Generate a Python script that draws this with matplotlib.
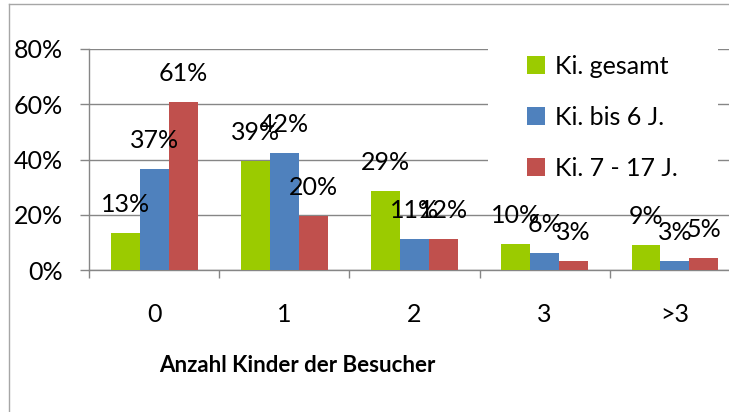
import numpy as np
import matplotlib.pyplot as plt
from matplotlib.patches import Rectangle
from matplotlib.lines import Line2D
from matplotlib.ticker import PercentFormatter, FixedLocator

# data
categories = ['0', '1', '2', '3', '>3']
series_names = ['Ki. gesamt', 'Ki. bis 6 J.', 'Ki. 7 - 17 J.']
gesamt = [0.134, 0.395, 0.286, 0.094, 0.090]
bis6 = [0.366, 0.424, 0.112, 0.062, 0.034]
ki7_17 = [0.608, 0.197, 0.112, 0.034, 0.043]
labels_gesamt = ['13%', '39%', '29%', '10%', '9%']
labels_bis6 = ['37%', '42%', '11%', '6%', '3%']
labels_7_17 = ['61%', '20%', '12%', '3%', '5%']

colors = ['#9BCB00', '#4F81BD', '#C0504D']
grid_col = '#868686'

plt.rcParams['font.family'] = ['Lato', 'DejaVu Sans']
fs = 18

W, H = 729, 412
fig = plt.figure(figsize=(W / 100, H / 100), dpi=100)
ax = fig.add_axes([89 / W, 142 / H, 651 / W, 221 / H])

x = np.arange(len(categories))
bw = 1 / 4.5
series = [gesamt, bis6, ki7_17]
labels = [labels_gesamt, labels_bis6, labels_7_17]
for i, (vals, lbls) in enumerate(zip(series, labels)):
    xs = x + (i - 1) * bw
    ax.bar(xs, vals, width=bw, color=colors[i], label=series_names[i], zorder=3)
    for xi, v, t in zip(xs, vals, lbls):
        ax.annotate(t, (xi, v), xytext=(0, 20.5), textcoords='offset points',
                    ha='center', va='center', fontsize=fs, color='black', zorder=4)

ax.set_xlim(-0.5, len(categories) - 0.5)
ax.set_ylim(0, 0.8)
ax.yaxis.set_major_locator(FixedLocator([0, 0.2, 0.4, 0.6, 0.8]))
ax.yaxis.set_major_formatter(PercentFormatter(xmax=1, decimals=0))
ax.grid(axis='y', color=grid_col, linewidth=1, zorder=0)

# category boundaries as major ticks, labels on minor ticks
ax.xaxis.set_major_locator(FixedLocator(np.arange(-0.5, len(categories), 1.0)))
ax.xaxis.set_minor_locator(FixedLocator(x))
ax.set_xticklabels([], minor=False)
ax.set_xticklabels(categories, minor=True)
ax.tick_params(axis='x', which='major', length=6, color=grid_col, width=1)
ax.tick_params(axis='x', which='minor', length=0, pad=24, labelsize=fs)
ax.tick_params(axis='y', length=6.5, color=grid_col, width=1, pad=12, labelsize=fs)

for s in ['top', 'right']:
    ax.spines[s].set_visible(False)
for s in ['left', 'bottom']:
    ax.spines[s].set_color(grid_col)
    ax.spines[s].set_linewidth(1)

fig.text(297 / W, 1 - 365 / H, 'Anzahl Kinder der Besucher', ha='center', va='center',
         fontsize=16, fontweight='bold')

# chart frame (left and top edges visible in crop)
fig.add_artist(Line2D([8.5 / W, 8.5 / W], [0, 1 - 4 / H], transform=fig.transFigure,
                      color='#A6A6A6', linewidth=1))
fig.add_artist(Line2D([8.5 / W, 1], [1 - 4 / H, 1 - 4 / H], transform=fig.transFigure,
                      color='#A6A6A6', linewidth=1))

# legend area (white background over gridlines)
fig.add_artist(Rectangle((488 / W, 1 - 192 / H), 230 / W, 150 / H, transform=fig.transFigure,
                         facecolor='white', edgecolor='none', zorder=1))
handles, lbls = ax.get_legend_handles_labels()
px = fs * 100 / 72
fig.legend(handles, lbls, loc='upper left', bbox_to_anchor=(527 / W, 1 - 55 / H),
           frameon=False, fontsize=fs, borderpad=0, borderaxespad=0,
           handlelength=18 / px, handleheight=18 / px, handletextpad=10 / px,
           labelspacing=1.12)

fig.savefig('out.png', dpi=100)
